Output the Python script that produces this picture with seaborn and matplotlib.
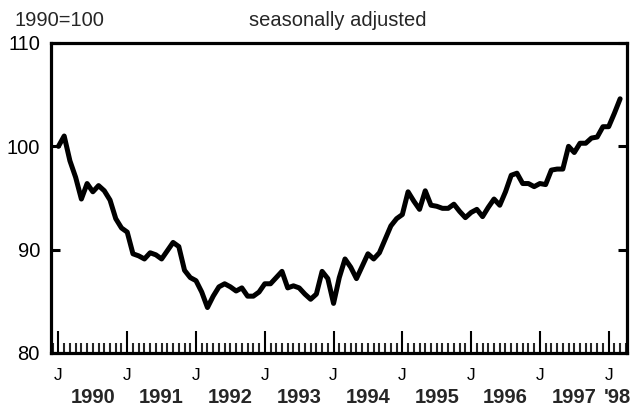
import numpy as np
import pandas as pd
import seaborn as sns
import matplotlib.pyplot as plt
from matplotlib.ticker import FixedLocator, MultipleLocator
import matplotlib.transforms as mtransforms

# monthly index, Jan 1990 .. Mar 1998 (1990=100, seasonally adjusted)
index_values = [
    100.0, 101.0, 98.6, 97.0, 94.9, 96.4, 95.6, 96.2, 95.7, 94.8, 93.0, 92.1,   # 1990
    91.7, 89.6, 89.4, 89.1, 89.7, 89.5, 89.1, 89.9, 90.7, 90.3, 88.0, 87.3,     # 1991
    87.0, 85.9, 84.4, 85.5, 86.4, 86.7, 86.4, 86.0, 86.3, 85.5, 85.5, 85.9,     # 1992
    86.7, 86.7, 87.3, 87.9, 86.3, 86.5, 86.3, 85.7, 85.2, 85.7, 87.9, 87.2,     # 1993
    84.8, 87.3, 89.1, 88.3, 87.2, 88.4, 89.6, 89.1, 89.7, 91.0, 92.3, 93.0,     # 1994
    93.4, 95.6, 94.7, 93.9, 95.7, 94.3, 94.2, 94.0, 94.0, 94.4, 93.7, 93.1,     # 1995
    93.6, 93.9, 93.2, 94.1, 94.9, 94.3, 95.6, 97.2, 97.4, 96.4, 96.4, 96.1,     # 1996
    96.4, 96.3, 97.7, 97.8, 97.8, 100.0, 99.4, 100.3, 100.3, 100.8, 100.9, 101.9,  # 1997
    101.9, 103.2, 104.6,                                                        # 1998
]
year_labels = ["1990", "1991", "1992", "1993", "1994", "1995", "1996", "1997", "'98"]
month_label = "J"

df = pd.DataFrame({"month": np.arange(len(index_values)), "value": index_values})

sns.set_style("white")
plt.rcParams['font.family'] = ['Liberation Sans', 'DejaVu Sans']

fig = plt.figure(figsize=(6.35, 4.08), dpi=100)
ax = fig.add_axes([51 / 635, 1 - 353 / 408, 576 / 635, 310 / 408])

sns.lineplot(data=df, x="month", y="value", color="black", linewidth=3.6, ax=ax)

ax.set_xlim(-1.3, 99.2)
ax.set_ylim(80, 110)
ax.set_xlabel("")
ax.set_ylabel("")

for s in ax.spines.values():
    s.set_visible(True)
    s.set_color("black")
    s.set_linewidth(2.3)

# y axis
ax.set_yticks([80, 90, 100, 110])
ax.tick_params(axis="y", which="major", direction="in", length=6.5, width=2.2,
               left=True, right=True, labelsize=14.5, pad=8, colors="black")

# x axis: J at each January, small ticks each month
jans = list(range(0, len(index_values), 12))
ax.xaxis.set_major_locator(FixedLocator(jans))
ax.set_xticklabels([month_label] * len(jans))
ax.xaxis.set_minor_locator(MultipleLocator(1))
ax.tick_params(axis="x", which="major", direction="in", length=16, width=1.5,
               bottom=True, top=False, labelsize=12.5, pad=11, colors="black")
ax.tick_params(axis="x", which="minor", direction="in", length=7, width=1.5,
               bottom=True, top=False)

trans = mtransforms.blended_transform_factory(ax.transData, ax.transAxes)
year_pos = [6 + 12 * k for k in range(8)] + [97.5]
for xp, lab in zip(year_pos, year_labels):
    ax.text(xp, -0.142, lab, transform=trans, ha="center", va="center",
            fontsize=14.5, fontweight="bold")

fig.text(15 / 635, 1 - 20 / 408, "1990=100", ha="left", va="center", fontsize=14.5)
fig.text(338 / 635, 1 - 20 / 408, "seasonally adjusted", ha="center", va="center",
         fontsize=14.5)

fig.savefig("out.png", dpi=100)
